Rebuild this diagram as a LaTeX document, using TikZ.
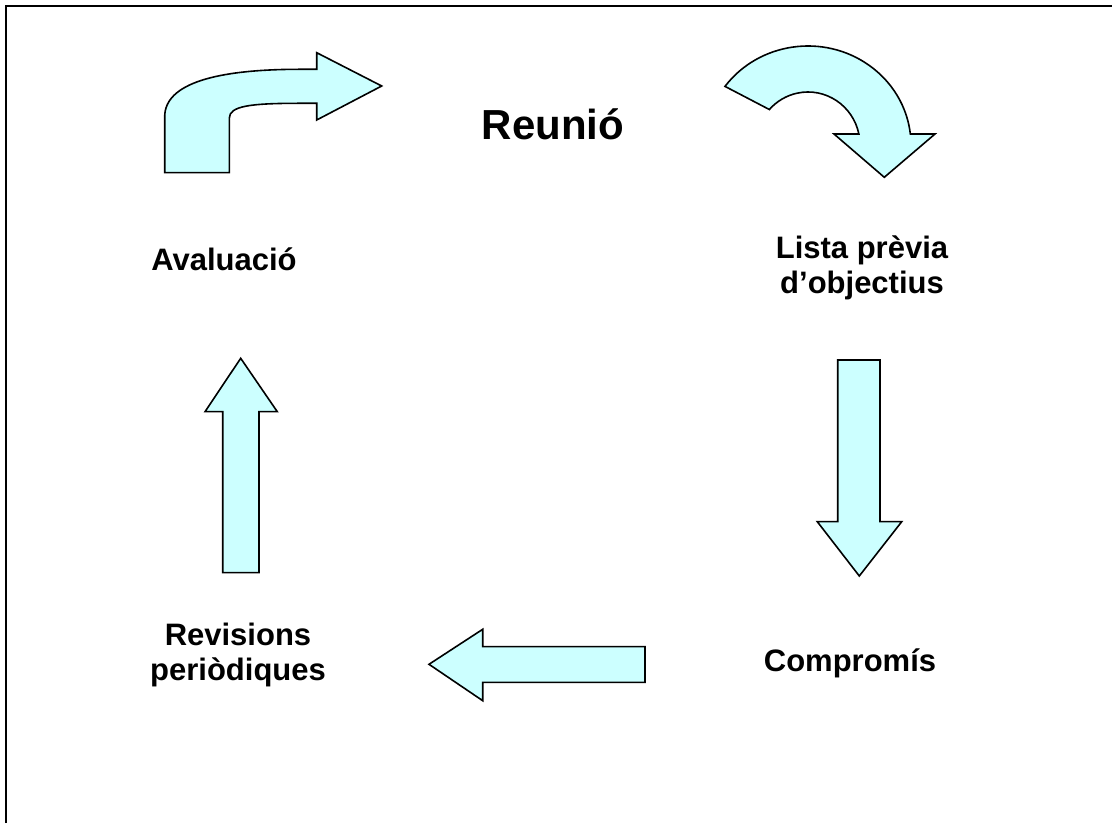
\documentclass[tikz,border=0pt]{standalone}
\usepackage{fontspec}
\setmainfont{Liberation Sans}
\usetikzlibrary{calc}
\definecolor{arrowfill}{RGB}{204,255,255}
\tikzset{
  blockarrow/.style={draw=black, fill=arrowfill, line width=1.6pt, line join=miter},
  stagetext/.style={font=\fontsize{31}{35}\selectfont\bfseries, inner sep=0pt, align=center},
  frame/.style={draw=black, line width=2pt}
}
\begin{document}
\begin{tikzpicture}[x=1pt, y=1pt]
\useasboundingbox (0,0) rectangle (1112,823);
% page frame (left and top edges)
\draw[frame] (6,0) -- (6,816.7) -- (1112,816.7);

% title
\node[stagetext, font=\fontsize{42}{48}\selectfont\bfseries, anchor=base] (reunio) at (553,683) {Reunió};

% stage labels
\node[stagetext, anchor=base] (avaluacio) at (224,552) {Avaluació};
\node[stagetext] (lista) at (862,555) {Lista prèvia\\d’objectius};
\node[stagetext, anchor=base] (compromis) at (850,152) {Compromís};
\node[stagetext] (revisions) at (238,168) {Revisions\\periòdiques};

% bent arrow: Avaluació -> Reunió
\draw[blockarrow] (164.7,650.3) -- (164.7,706.3)
  .. controls (164.7,739.7) and (216.7,753.7) .. (300,753.7)
  -- (316.7,753.7) -- (316.7,770.3) -- (381.7,737) -- (316.7,703)
  -- (316.7,719.7) -- (300,719.7)
  .. controls (250,719.7) and (229.3,717) .. (229.3,704.7)
  -- (229.3,650.3) -- cycle;

% curved arrow: Reunió -> Lista prèvia
\coordinate (cc) at (808,678);
\draw[blockarrow] ($(cc)+(143.7:103 and 99)$)
  arc[start angle=143.7, end angle=6.4, x radius=103, y radius=99]
  -- (935,689) -- (884.3,645.7) -- (834,689) -- ($(cc)+(12:52 and 53)$)
  arc[start angle=12, end angle=138, x radius=52, y radius=53] -- cycle;

% down arrow: Lista prèvia -> Compromís
\draw[blockarrow] (837.7,463) -- (880,463) -- (880,301.3) -- (901.7,301.3)
  -- (859.3,247) -- (817.3,301.3) -- (837.7,301.3) -- cycle;

% left arrow: Compromís -> Revisions
\draw[blockarrow] (645,176.3) -- (482.7,176.3) -- (482.7,193.7) -- (429,158.7)
  -- (482.7,122.3) -- (482.7,140.7) -- (645,140.7) -- cycle;

% up arrow: Revisions -> Avaluació
\draw[blockarrow] (222.7,250.3) -- (259,250.3) -- (259,411.3) -- (277.3,411.3)
  -- (240.7,464.7) -- (205,411.3) -- (222.7,411.3) -- cycle;
\end{tikzpicture}
\end{document}
